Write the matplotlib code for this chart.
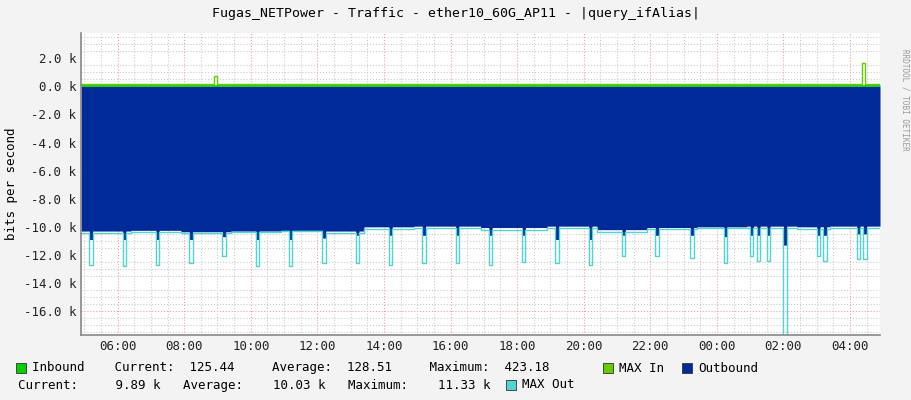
import numpy as np
import matplotlib.pyplot as plt
from matplotlib.patches import Rectangle

# time in hours since 04:54 (start of graph)
# outbound average level (bits/s, plotted negative), piecewise steps
out_t = [0.0, 1.5, 3.0, 4.5, 6.0, 7.3, 8.5, 10.0, 12.0, 14.0, 15.5, 17.0, 18.5, 20.0, 21.5, 22.5, 24.0]
out_v = [10.30, 10.25, 10.35, 10.30, 10.25, 10.30, 10.00, 9.95, 10.05, 9.95, 10.20, 10.05, 10.00, 9.95, 10.00, 9.95, 9.85]
# max outbound baseline
maxo_t = out_t
maxo_v = [10.45, 10.40, 10.45, 10.40, 10.30, 10.45, 10.15, 10.10, 10.20, 10.10, 10.40, 10.15, 10.10, 10.05, 10.15, 10.05, 9.95]

# periodic dips: start hour, max-out depth (k), avg depth (k)
dip_t = [0.25, 1.24, 2.24, 3.24, 4.24, 5.24, 6.24, 7.25, 8.25, 9.25, 10.24, 11.25, 12.25,
         13.24, 14.23, 15.23, 16.23, 17.23, 18.27, 19.26, 20.06, 20.26, 20.56, 21.07,
         22.06, 22.26, 23.27, 23.47]
dip_max = [12.75, 12.8, 12.75, 12.6, 12.05, 12.8, 12.8, 12.6, 12.6, 12.7, 12.55, 12.6, 12.7,
           12.5, 12.6, 12.75, 12.05, 12.05, 12.2, 12.55, 12.1, 12.4, 12.4, 17.8,
           12.1, 12.4, 12.3, 12.3]
dip_avg = [10.9, 10.9, 10.9, 10.9, 10.7, 10.9, 10.9, 10.8, 10.6, 10.6, 10.6, 10.6, 10.6,
           10.6, 10.9, 10.9, 10.6, 10.6, 10.6, 10.7, 10.6, 10.6, 10.6, 11.3,
           10.6, 10.6, 10.5, 10.5]
dip_w = 0.1

# inbound
in_avg = 0.125
in_max_base = 0.20
in_spikes_t = [3.99, 23.42]
in_spikes_v = [0.77, 1.65]

tick_hours = [1.1, 3.1, 5.1, 7.1, 9.1, 11.1, 13.1, 15.1, 17.1, 19.1, 21.1, 23.1]
tick_labels = ["06:00", "08:00", "10:00", "12:00", "14:00", "16:00", "18:00",
               "20:00", "22:00", "00:00", "02:00", "04:00"]


def build(base_t, base_v, dips, width):
    t = np.round(np.arange(0, 24.0001, 0.05), 3)
    v = np.array([base_v[np.searchsorted(base_t, x, side="right") - 1] for x in t])
    for s, d in dips:
        v[(t >= s) & (t < s + width)] = d
    return t, v


t, avg = build(out_t, out_v, zip(dip_t, dip_avg), dip_w)
_, mx = build(maxo_t, maxo_v, zip(dip_t, dip_max), dip_w)
inmax = np.full_like(t, in_max_base)
for s, d in zip(in_spikes_t, in_spikes_v):
    inmax[(t >= s) & (t < s + dip_w)] = d

plt.rcParams['font.family'] = 'DejaVu Sans Mono'
fig = plt.figure(figsize=(9.11, 4.0), dpi=100, facecolor='#f3f3f3')
ax = fig.add_axes([81 / 911, 1 - 335 / 400, 799 / 911, 302 / 400])
ax.set_facecolor('white')

ax.fill_between(t, 0, -avg, step='post', color='#002a97', lw=0)
ax.step(t, -mx, where='post', color='#50d6d0', lw=1)
ax.fill_between(t, 0, in_avg, step='post', color='#00cf00', lw=0)
ax.step(t, inmax, where='post', color='#66cc00', lw=1)

ax.set_xlim(0, 24)
ax.set_ylim(-17.7, 3.8)
ax.set_yticks(np.arange(-16, 3, 2))
ax.set_yticklabels([f"{v:.1f} k" for v in np.arange(-16, 3, 2)], fontsize=9)
ax.set_xticks(tick_hours)
ax.set_xticklabels(tick_labels, fontsize=9)
ax.set_xticks(np.arange(0.1, 24, 0.5), minor=True)
ax.set_yticks(np.arange(-17.5, 3.8, 0.5), minor=True)
ax.tick_params(which='both', length=0, colors='#222222')
ax.grid(which='minor', color='#cccccc', ls=':', lw=0.8)
for h in tick_hours:
    ax.axvline(h, color='#f0a0a0', ls=':', lw=0.8, zorder=0.5)
for y in [-16, -8, 0]:
    ax.axhline(y, color='#f0a0a0', ls=':', lw=0.8, zorder=0.5)
ax.set_axisbelow(True)
for s in ax.spines.values():
    s.set_visible(False)
ax.axhline(-17.7, color='#888888', lw=1.2, clip_on=False)
ax.axvline(0, color='#888888', lw=1.2, clip_on=False)
ax.set_ylabel("bits per second", fontsize=9)

fig.text(0.5, 1 - 14 / 400, "Fugas_NETPower - Traffic - ether10_60G_AP11 - |query_ifAlias|",
         ha='center', va='center', fontsize=9.5)
fig.text(0.993, 0.75, "RRDTOOL / TOBI OETIKER", rotation=270, fontsize=5.5,
         color='#999999', ha='center', va='center')


def box(x, y, c):
    fig.patches.append(Rectangle((x / 911, 1 - (y + 5) / 400), 10 / 911, 10 / 400,
                                 facecolor=c, edgecolor='#333333', lw=0.6,
                                 transform=fig.transFigure))


row1 = 1 - 368 / 400
row2 = 1 - 385 / 400
box(16, 368, '#00cf00')
fig.text(32 / 911, row1, "Inbound    Current:  125.44     Average:  128.51     Maximum:  423.18",
         fontsize=9, va='center')
box(603, 368, '#66cc00')
fig.text(619 / 911, row1, "MAX In", fontsize=9, va='center')
box(682, 368, '#002a97')
fig.text(698 / 911, row1, "Outbound", fontsize=9, va='center')
fig.text(18 / 911, row2, "Current:     9.89 k   Average:    10.03 k   Maximum:    11.33 k",
         fontsize=9, va='center')
box(506, 385, '#50d6d0')
fig.text(522 / 911, row2, "MAX Out", fontsize=9, va='center')

fig.savefig("out.png", dpi=100, facecolor=fig.get_facecolor())
